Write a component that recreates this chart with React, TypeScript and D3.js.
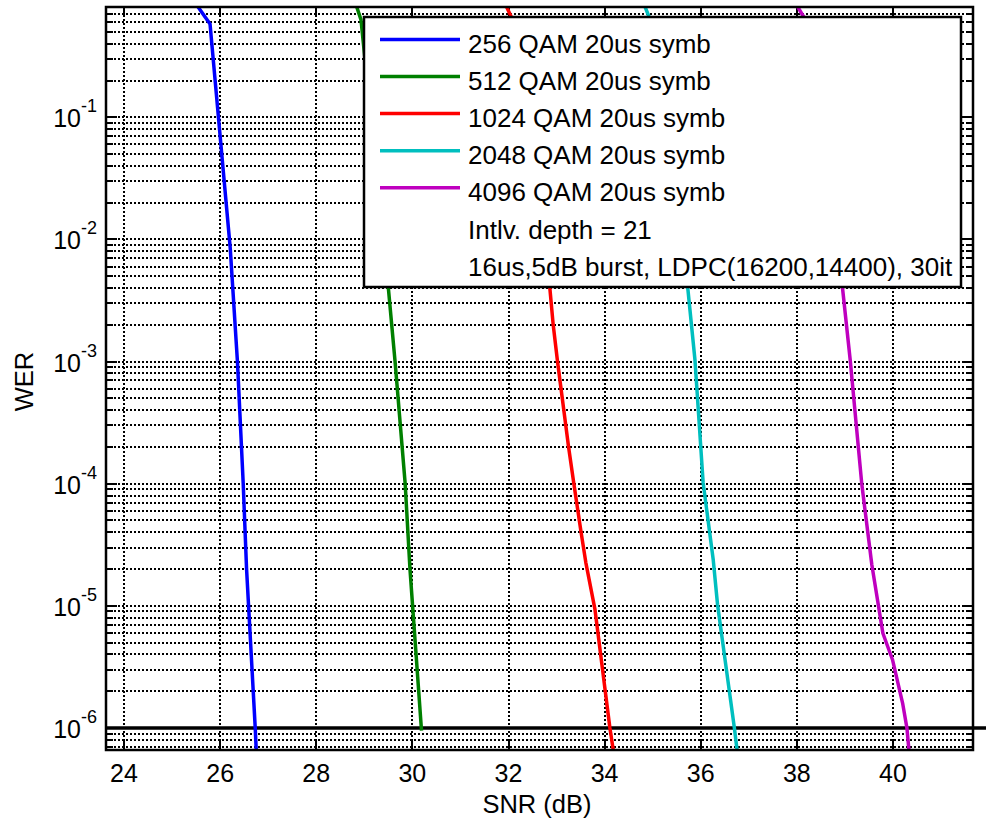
import React from "react";
import * as d3 from "d3";

// ---- data ----
const snr256 = [25.45, 25.79, 26.21, 26.36, 26.48, 26.55, 26.73, 26.76];
const wer256 = [0.9, 0.58, 8.5e-3, 1.0e-3, 1.0e-4, 2.0e-5, 1.0e-6, 5.5e-7];

const snr512 = [28.8, 28.93, 29.5, 29.64, 29.85, 29.95, 30.19];
const wer512 = [0.9, 0.63, 4.0e-3, 1.0e-3, 1.0e-4, 2.0e-5, 9.5e-7];

const snr1024 = [31.9, 32.11, 32.86, 32.93, 33.02, 33.25, 33.36, 33.51, 33.61, 33.8, 34.11, 34.21];
const wer1024 = [0.9, 0.6, 4.0e-3, 2.0e-3, 1.0e-3, 2.0e-4, 1.0e-4, 4.0e-5, 2.25e-5, 9.3e-6, 1.0e-6, 5.5e-7];

const snr2048 = [34.79, 34.97, 35.73, 35.88, 36.05, 36.26, 36.35, 36.7, 36.78];
const wer2048 = [0.9, 0.6, 4.0e-3, 1.03e-3, 1.02e-4, 2.38e-5, 1.02e-5, 1.0e-6, 5.5e-7];

const snr4096 = [37.94, 38.21, 38.95, 39.11, 39.35, 39.56, 39.79, 39.99, 40.2, 40.29, 40.35];
const wer4096 = [0.9, 0.6, 4.0e-3, 1.03e-3, 1.0e-4, 2.17e-5, 5.96e-6, 3.62e-6, 1.6e-6, 1.0e-6, 5.5e-7];

const seriesNames = [
  "256 QAM 20us symb",
  "512 QAM 20us symb",
  "1024 QAM 20us symb",
  "2048 QAM 20us symb",
  "4096 QAM 20us symb",
];
const seriesColors = ["#0000ff", "#008000", "#ff0000", "#00bfbf", "#bf00bf"];
const extraLegendText = ["Intlv. depth = 21", "16us,5dB burst, LDPC(16200,14400), 30it"];

const xTicks = [24, 26, 28, 30, 32, 34, 36, 38, 40];
const yExponents = [-1, -2, -3, -4, -5, -6];
const xDomain = [23.625, 41.665];
const yDomain = [6.6e-7, 0.8];
const targetWER = 1e-6;
const xLabel = "SNR (dB)";
const yLabel = "WER";

const W = 986;
const H = 822;
const M = { left: 106, top: 7, right: 973, bottom: 750 };
const FONT = "'Liberation Sans', Arial, Helvetica, sans-serif";

export default function App() {
  const x = d3.scaleLinear().domain(xDomain).range([M.left, M.right]);
  const y = d3.scaleLog().domain(yDomain).range([M.bottom, M.top]);

  const series = [
    { s: snr256, w: wer256 },
    { s: snr512, w: wer512 },
    { s: snr1024, w: wer1024 },
    { s: snr2048, w: wer2048 },
    { s: snr4096, w: wer4096 },
  ].map((d, i) => ({
    name: seriesNames[i],
    color: seriesColors[i],
    pts: d.s.map((v, j) => [v, d.w[j]] as [number, number]),
  }));

  const line = d3
    .line<[number, number]>()
    .x((d) => x(d[0]))
    .y((d) => y(d[1]));

  const minor: number[] = [];
  for (let e = -7; e <= 0; e++) {
    for (let k = 2; k <= 9; k++) {
      const v = k * Math.pow(10, e);
      if (v >= yDomain[0] && v <= yDomain[1]) minor.push(v);
    }
  }
  const major = yExponents.map((e) => Math.pow(10, e));

  const snap = (v: number) => Math.round(v);
  const gridStyle = {
    stroke: "#000",
    strokeWidth: 2,
    strokeDasharray: "2,2",
    shapeRendering: "crispEdges" as const,
  };

  const lg = { x: 364, y: 17, w: 597, h: 270, row: 37.1, first: 53 };

  return (
    <svg
      width={W}
      height={H}
      style={{ position: "absolute", left: 0, top: 0, background: "#fff" }}
      fontFamily={FONT}
    >
      <defs>
        <clipPath id="plotClip">
          <rect x={M.left} y={M.top} width={M.right - M.left} height={M.bottom - M.top} />
        </clipPath>
      </defs>
      <rect x={0} y={0} width={W} height={H} fill="#fff" />

      {/* grid */}
      <g>
        {xTicks.map((t) => (
          <line key={"gx" + t} x1={snap(x(t))} x2={snap(x(t))} y1={M.top} y2={M.bottom} {...gridStyle} />
        ))}
        {major.concat(minor).map((v, i) => (
          <line key={"gy" + i} x1={M.left} x2={M.right} y1={snap(y(v))} y2={snap(y(v))} {...gridStyle} />
        ))}
      </g>

      {/* ticks */}
      <g stroke="#000" strokeWidth={2} shapeRendering="crispEdges">
        {xTicks.map((t) => (
          <g key={"tx" + t}>
            <line x1={snap(x(t))} x2={snap(x(t))} y1={M.bottom} y2={M.bottom - 10} />
            <line x1={snap(x(t))} x2={snap(x(t))} y1={M.top} y2={M.top + 10} />
          </g>
        ))}
        {major.map((v, i) => (
          <g key={"ty" + i}>
            <line x1={M.left} x2={M.left + 11} y1={snap(y(v))} y2={snap(y(v))} />
            <line x1={M.right} x2={M.right - 11} y1={snap(y(v))} y2={snap(y(v))} />
          </g>
        ))}
        {minor.map((v, i) => (
          <g key={"tym" + i}>
            <line x1={M.left} x2={M.left + 7} y1={snap(y(v))} y2={snap(y(v))} />
            <line x1={M.right} x2={M.right - 7} y1={snap(y(v))} y2={snap(y(v))} />
          </g>
        ))}
      </g>

      {/* target WER line */}
      <line x1={x(xDomain[0])} x2={W} y1={y(targetWER)} y2={y(targetWER)} stroke="#000" strokeWidth={3.5} />

      {/* data */}
      <g clipPath="url(#plotClip)">
        {series.map((s) => (
          <path key={s.name} d={line(s.pts) || ""} fill="none" stroke={s.color} strokeWidth={3.5} strokeLinejoin="round" />
        ))}
      </g>

      {/* axes box */}
      <rect
        x={M.left}
        y={M.top}
        width={M.right - M.left}
        height={M.bottom - M.top}
        fill="none"
        stroke="#000"
        strokeWidth={2.5}
      />

      {/* tick labels */}
      <g fontSize={25} fill="#000">
        {xTicks.map((t) => (
          <text key={"lx" + t} x={x(t)} y={782} textAnchor="middle">
            {t}
          </text>
        ))}
        {yExponents.map((e) => (
          <text key={"ly" + e} x={97} y={y(Math.pow(10, e)) + 10} textAnchor="end">
            10
            <tspan dy={-15} fontSize={18}>
              {String(e)}
            </tspan>
          </text>
        ))}
      </g>

      {/* axis labels */}
      <text x={537} y={813} fontSize={25.5} textAnchor="middle">
        {xLabel}
      </text>
      <text
        transform={`translate(33,${(M.top + M.bottom) / 2 + 3}) rotate(-90)`}
        fontSize={25.5}
        textAnchor="middle"
      >
        {yLabel}
      </text>

      {/* legend */}
      <g>
        <rect x={lg.x} y={lg.y} width={lg.w} height={lg.h} fill="#fff" stroke="#000" strokeWidth={2.5} />
        {series.map((s, i) => (
          <g key={"lg" + i}>
            <line
              x1={lg.x + 16}
              x2={lg.x + 96}
              y1={lg.first + i * lg.row - 13.6}
              y2={lg.first + i * lg.row - 13.6}
              stroke={s.color}
              strokeWidth={3.5}
            />
            <text x={lg.x + 104} y={lg.first + i * lg.row} fontSize={26}>
              {s.name}
            </text>
          </g>
        ))}
        {extraLegendText.map((t, i) => (
          <text key={"lt" + i} x={lg.x + 104} y={lg.first + (i + 5) * lg.row} fontSize={26}>
            {t}
          </text>
        ))}
      </g>
    </svg>
  );
}
